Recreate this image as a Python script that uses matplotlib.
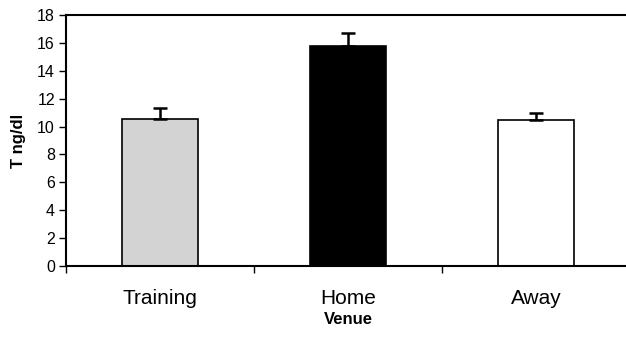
import matplotlib
matplotlib.use("Agg")
import matplotlib.pyplot as plt
import numpy as np

categories = ["Training", "Home", "Away"]
values = [10.55, 15.75, 10.45]
errors = [0.8, 0.95, 0.5]
colors = ["#d3d3d3", "#000000", "#ffffff"]
yticks = [0, 2, 4, 6, 8, 10, 12, 14, 16, 18]

plt.rcParams['font.family'] = ['Liberation Sans', 'DejaVu Sans']

fig = plt.figure(figsize=(6.26, 3.40), dpi=100)
ax = fig.add_axes([66/626, (340-266.3)/340, 564/626, (266.3-14.7)/340])

x = np.arange(len(categories))
ax.bar(x, values, width=0.40, color=colors, edgecolor="black", linewidth=1.2, zorder=2)
ax.errorbar(x, values, yerr=[np.zeros(len(errors)), errors], fmt="none",
            ecolor="black", elinewidth=1.8, capsize=5, capthick=1.8, zorder=3)

ax.set_xlim(-0.5, 2.5)
ax.set_ylim(0, 18)
ax.set_yticks(yticks)
ax.set_yticklabels([str(v) for v in yticks], fontsize=11.5)
ax.set_xticks(x)
ax.set_xticklabels(categories, fontsize=15)
ax.set_xticks([-0.5, 0.5, 1.5, 2.5], minor=True)
ax.tick_params(axis="x", which="major", length=0, pad=16)
ax.tick_params(axis="x", which="minor", length=5, width=1, direction="out")
ax.tick_params(axis="y", length=5, width=1, direction="out", pad=3)

for s in ["left", "top", "bottom", "right"]:
    ax.spines[s].set_linewidth(1.5)
    ax.spines[s].set_color("black")

ax.set_ylabel("T ng/dl", fontsize=12, fontweight="bold", labelpad=8)
ax.set_xlabel("Venue", fontsize=12, fontweight="bold", labelpad=3)

fig.savefig("out.png", dpi=100)
